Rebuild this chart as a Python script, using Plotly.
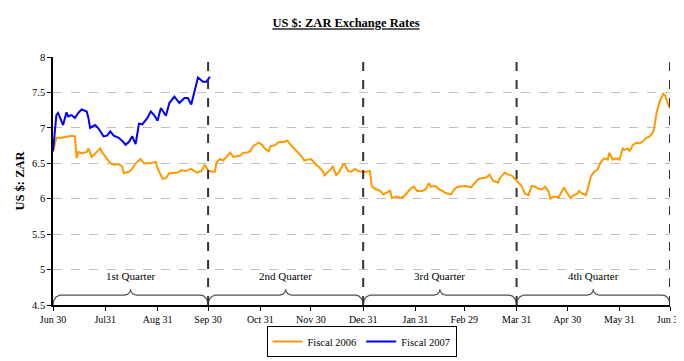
import numpy as np
import pandas as pd
import plotly.graph_objects as go

# ---------------- data ----------------
fy2006_dates = [
    "2007-06-30", "2007-07-02", "2007-07-05", "2007-07-08", "2007-07-11", "2007-07-13", "2007-07-14",
    "2007-07-15", "2007-07-17", "2007-07-20", "2007-07-21", "2007-07-23", "2007-07-25", "2007-07-28",
    "2007-07-29", "2007-07-31", "2007-08-03", "2007-08-05", "2007-08-08", "2007-08-10", "2007-08-11",
    "2007-08-14", "2007-08-16", "2007-08-18", "2007-08-21", "2007-08-23", "2007-08-27", "2007-08-30",
    "2007-08-31", "2007-09-03", "2007-09-05", "2007-09-07", "2007-09-10", "2007-09-12", "2007-09-14",
    "2007-09-17", "2007-09-20", "2007-09-23", "2007-09-26", "2007-09-28", "2007-09-30",
    "2007-10-02", "2007-10-04", "2007-10-05", "2007-10-07", "2007-10-09", "2007-10-11", "2007-10-13",
    "2007-10-15", "2007-10-17", "2007-10-19", "2007-10-21", "2007-10-23", "2007-10-25", "2007-10-27",
    "2007-10-28", "2007-10-30", "2007-11-01", "2007-11-03", "2007-11-05", "2007-11-06", "2007-11-09",
    "2007-11-11", "2007-11-14", "2007-11-16", "2007-11-18", "2007-11-20", "2007-11-22", "2007-11-24",
    "2007-11-26", "2007-11-28", "2007-11-30", "2007-12-02", "2007-12-03", "2007-12-05", "2007-12-07",
    "2007-12-08", "2007-12-10", "2007-12-12", "2007-12-13", "2007-12-15", "2007-12-17", "2007-12-19",
    "2007-12-20", "2007-12-22", "2007-12-24", "2007-12-26", "2007-12-28", "2007-12-30",
    "2008-01-02", "2008-01-03", "2008-01-04", "2008-01-05", "2008-01-07", "2008-01-10", "2008-01-12",
    "2008-01-14", "2008-01-16", "2008-01-17", "2008-01-20", "2008-01-22", "2008-01-24", "2008-01-26",
    "2008-01-28", "2008-01-30", "2008-02-01", "2008-02-04", "2008-02-06", "2008-02-08", "2008-02-09",
    "2008-02-12", "2008-02-14", "2008-02-16", "2008-02-18", "2008-02-21", "2008-02-23", "2008-02-25",
    "2008-02-28", "2008-03-01", "2008-03-04", "2008-03-06", "2008-03-08", "2008-03-10", "2008-03-13",
    "2008-03-15", "2008-03-17", "2008-03-20", "2008-03-21", "2008-03-24", "2008-03-26", "2008-03-28",
    "2008-03-30", "2008-03-31", "2008-04-01", "2008-04-03", "2008-04-05", "2008-04-07", "2008-04-09",
    "2008-04-11", "2008-04-13", "2008-04-15", "2008-04-17", "2008-04-19", "2008-04-20", "2008-04-22",
    "2008-04-25", "2008-04-27", "2008-04-28", "2008-04-30", "2008-05-02", "2008-05-04", "2008-05-06",
    "2008-05-07", "2008-05-09", "2008-05-11", "2008-05-12", "2008-05-14", "2008-05-16", "2008-05-18",
    "2008-05-20", "2008-05-22", "2008-05-24", "2008-05-25", "2008-05-27", "2008-05-29", "2008-05-31",
    "2008-06-02", "2008-06-03", "2008-06-05", "2008-06-06", "2008-06-08", "2008-06-10", "2008-06-12",
    "2008-06-14", "2008-06-16", "2008-06-18", "2008-06-20", "2008-06-21", "2008-06-22", "2008-06-24",
    "2008-06-26", "2008-06-27", "2008-06-29", "2008-06-30",
]
fy2006_rates = [
    6.66, 6.86, 6.86, 6.88, 6.89, 6.88, 6.57,
    6.66, 6.64, 6.66, 6.71, 6.59, 6.64, 6.71,
    6.66, 6.59, 6.50, 6.48, 6.49, 6.45, 6.36,
    6.38, 6.42, 6.50, 6.56, 6.50, 6.50, 6.52,
    6.43, 6.28, 6.29, 6.36, 6.36, 6.37, 6.40,
    6.39, 6.42, 6.37, 6.39, 6.48, 6.40,
    6.38, 6.38, 6.51, 6.56, 6.54, 6.59, 6.65,
    6.59, 6.60, 6.61, 6.65, 6.65, 6.67, 6.75,
    6.76, 6.79, 6.76, 6.70, 6.67, 6.74, 6.76,
    6.80, 6.80, 6.82, 6.76, 6.71, 6.66, 6.61,
    6.54, 6.55, 6.56, 6.51, 6.48, 6.44, 6.39,
    6.33, 6.37, 6.42, 6.46, 6.33, 6.39, 6.48,
    6.49, 6.39, 6.38, 6.42, 6.39, 6.38,
    6.38, 6.39, 6.39, 6.18, 6.14, 6.11, 6.06,
    6.09, 6.11, 6.01, 6.03, 6.01, 6.03, 6.08,
    6.14, 6.17, 6.11, 6.11, 6.13, 6.22, 6.17,
    6.18, 6.13, 6.11, 6.08, 6.06, 6.13, 6.17,
    6.17, 6.18, 6.16, 6.21, 6.27, 6.29, 6.30,
    6.34, 6.25, 6.23, 6.29, 6.37, 6.34, 6.33,
    6.28, 6.24, 6.22, 6.18, 6.07, 6.05, 6.18,
    6.17, 6.14, 6.13, 6.17, 6.10, 6.00, 6.03,
    6.02, 6.10, 6.16, 6.08, 6.01, 6.05, 6.07,
    6.11, 6.07, 6.05, 6.12, 6.31, 6.38, 6.41,
    6.52, 6.57, 6.55, 6.65, 6.55, 6.57, 6.55,
    6.71, 6.69, 6.71, 6.67, 6.76, 6.79, 6.78,
    6.81, 6.86, 6.88, 6.94, 7.05, 7.21, 7.38,
    7.48, 7.46, 7.33, 7.27,
]

fy2007_dates = [
    "2007-06-30", "2007-07-02", "2007-07-03", "2007-07-06", "2007-07-08", "2007-07-09", "2007-07-11",
    "2007-07-13", "2007-07-15", "2007-07-17", "2007-07-20", "2007-07-21", "2007-07-22", "2007-07-25",
    "2007-07-27", "2007-07-30", "2007-08-01", "2007-08-03", "2007-08-05", "2007-08-08", "2007-08-10",
    "2007-08-12", "2007-08-14", "2007-08-16", "2007-08-18", "2007-08-20", "2007-08-22", "2007-08-25",
    "2007-08-27", "2007-08-29", "2007-08-31", "2007-09-02", "2007-09-05", "2007-09-07", "2007-09-10",
    "2007-09-13", "2007-09-16", "2007-09-18", "2007-09-20", "2007-09-22", "2007-09-24", "2007-09-27",
    "2007-09-29", "2007-10-01",
]
fy2007_rates = [
    6.67, 7.18, 7.21, 7.04, 7.22, 7.16, 7.18,
    7.14, 7.21, 7.26, 7.23, 7.14, 7.00, 7.04,
    6.99, 6.88, 6.89, 6.95, 6.89, 6.86, 6.82,
    6.76, 6.80, 6.88, 6.77, 7.06, 7.05, 7.14,
    7.23, 7.18, 7.10, 7.28, 7.17, 7.35, 7.44,
    7.35, 7.42, 7.42, 7.33, 7.51, 7.71, 7.65,
    7.65, 7.72,
]

tick_dates = ["2007-06-30", "2007-07-31", "2007-08-31", "2007-09-30", "2007-10-31", "2007-11-30",
              "2007-12-31", "2008-01-31", "2008-02-29", "2008-03-31", "2008-04-30", "2008-05-31",
              "2008-06-30"]
tick_labels = ["Jun 30", "Jul31", "Aug 31", "Sep 30", "Oct 31", "Nov 30", "Dec 31", "Jan 31",
               "Feb 29", "Mar 31", "Apr 30", "May 31", "Jun 30"]
quarter_bounds = ["2007-06-30", "2007-09-30", "2007-12-31", "2008-03-31", "2008-06-30"]
quarter_labels = ["1st Quarter", "2nd Quarter", "3rd Quarter", "4th Quarter"]

SERIF = "Liberation Serif, Times New Roman, serif"
FIG_W, FIG_H = 676, 353  # page body adds an 8px margin on the top and left

fig = go.Figure()
fig.add_trace(go.Scatter(x=fy2006_dates, y=fy2006_rates, mode="lines", name="Fiscal 2006",
                         line=dict(color="#FF9900", width=2)))
fig.add_trace(go.Scatter(x=fy2007_dates, y=fy2007_rates, mode="lines", name="Fiscal 2007",
                         line=dict(color="#0000FF", width=2)))

# curly braces under each quarter
def brace(start, end, base=4.5, flat=4.64, peak=4.72, r=0.05, r2=0.04, n=20):
    s, e = pd.Timestamp(start), pd.Timestamp(end)
    t = np.linspace(0, np.pi / 2, n)
    u1 = r * (1 - np.cos(t)); y1 = base + (flat - base) * np.sin(t)
    u2 = 0.5 - r2 + r2 * np.sin(t); y2 = flat + (peak - flat) * (1 - np.cos(t))
    u = np.concatenate([u1, u2, 1 - u2[::-1], 1 - u1[::-1]])
    y = np.concatenate([y1, y2, y2[::-1], y1[::-1]])
    x = [s + (e - s) * float(v) for v in u]
    return x, y

for i in range(4):
    bx, by = brace(quarter_bounds[i], quarter_bounds[i + 1])
    fig.add_trace(go.Scatter(x=bx, y=by, mode="lines", showlegend=False, hoverinfo="skip",
                             line=dict(color="#505050", width=1.2)))
    s, e = pd.Timestamp(quarter_bounds[i]), pd.Timestamp(quarter_bounds[i + 1])
    fig.add_annotation(x=s + (e - s) / 2, y=4.91, text=quarter_labels[i], showarrow=False,
                       font=dict(family=SERIF, size=11, color="black"))

for qd in quarter_bounds[1:]:
    fig.add_shape(type="line", x0=qd, x1=qd, y0=4.5, y1=8, xref="x", yref="y",
                  line=dict(color="#333333", width=2, dash="dash"), layer="above")

fig.update_layout(
    width=FIG_W, height=FIG_H,
    margin=dict(l=45, r=14, t=49, b=56, autoexpand=False),
    paper_bgcolor="white", plot_bgcolor="white",
    title=dict(text="<b><u>US $: ZAR Exchange Rates</u></b>", x=0.5, xanchor="center",
               y=1 - 15 / FIG_H, yanchor="middle", font=dict(family=SERIF, size=12.5, color="black")),
    font=dict(family=SERIF, size=10, color="black"),
    showlegend=True,
    legend=dict(orientation="h", x=0.5, xanchor="center", y=-0.147, yanchor="middle",
                bordercolor="black", borderwidth=1, bgcolor="white",
                font=dict(family=SERIF, size=10.5, color="black"),
                itemwidth=30, tracegroupgap=0),
    xaxis=dict(type="date", range=[quarter_bounds[0], quarter_bounds[-1]],
               tickvals=tick_dates, ticktext=tick_labels, showgrid=False,
               showline=True, linecolor="black", linewidth=1.5,
               ticks="outside", ticklen=4, tickcolor="black", automargin=False,
               tickfont=dict(family=SERIF, size=10), zeroline=False),
    yaxis=dict(range=[4.5, 8], dtick=0.5, tick0=4.5,
               showgrid=True, gridcolor="#BFBFBF", griddash="dash", gridwidth=1,
               showline=True, linecolor="black", linewidth=1.5,
               ticks="outside", ticklen=4, tickcolor="black", automargin=False,
               tickfont=dict(family=SERIF, size=10.5), zeroline=False,
               title=dict(text="<b>US $: ZAR</b>", standoff=5,
                          font=dict(family=SERIF, size=12.5, color="black"))),
)

fig.write_html("out.html")
